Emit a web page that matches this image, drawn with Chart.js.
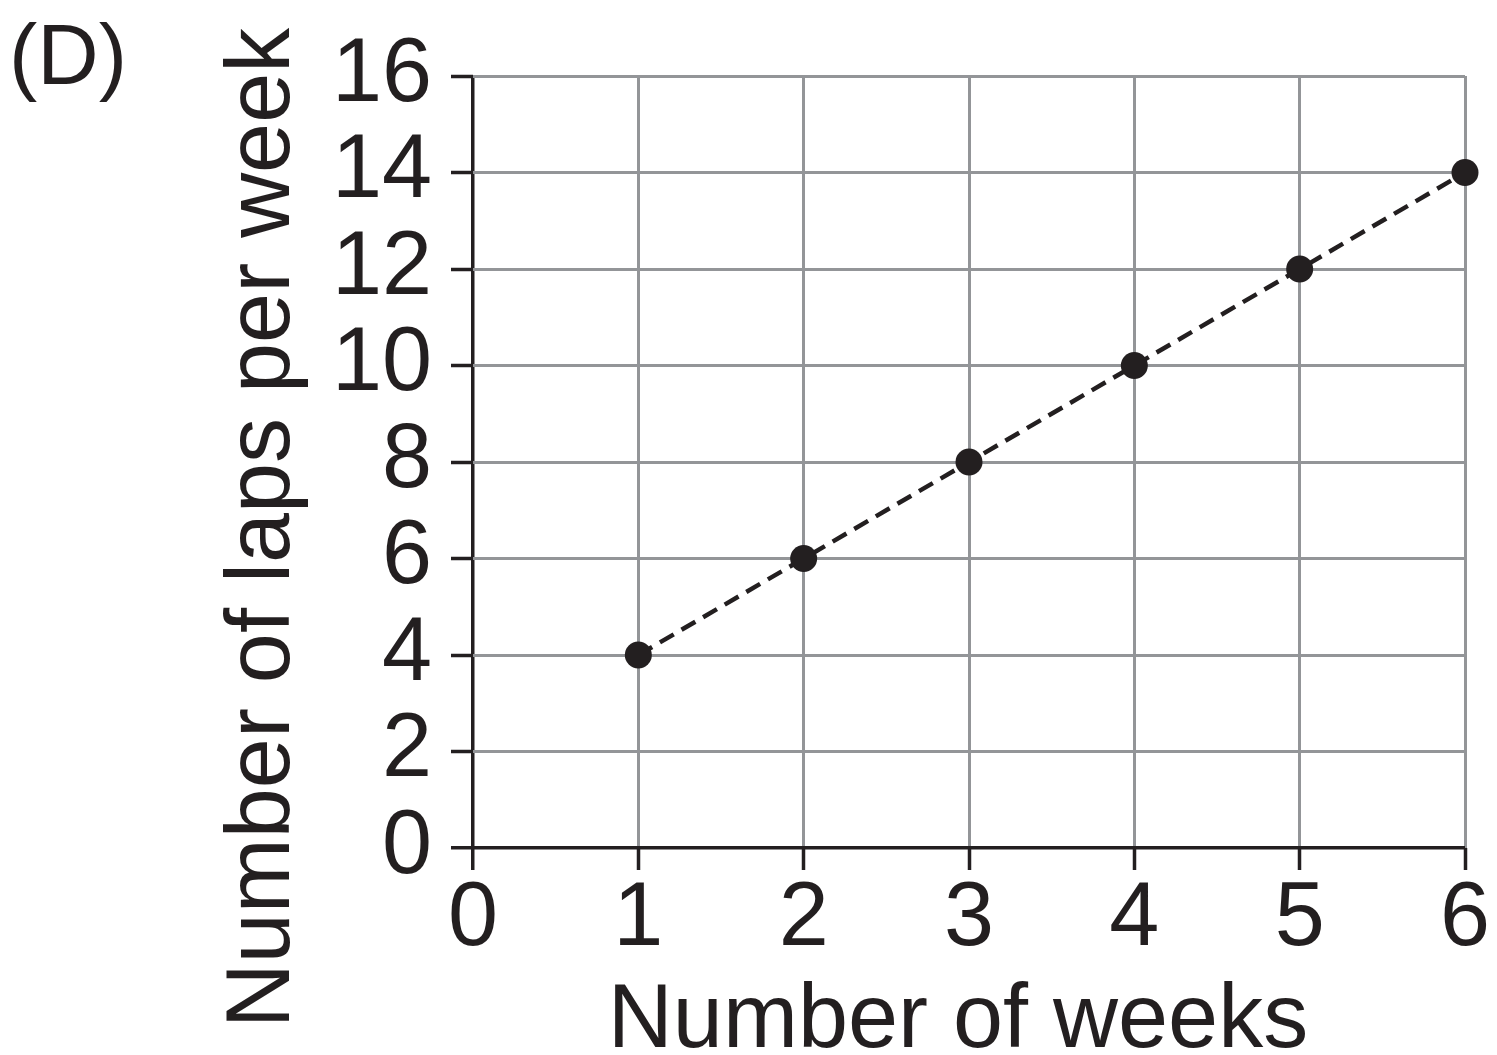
<!DOCTYPE html>
<html>
<head>
<meta charset="utf-8">
<script src="https://cdn.jsdelivr.net/npm/chart.js@4/dist/chart.umd.min.js"></script>
<style>
  html, body { margin: 0; padding: 0; background: #ffffff; }
  #wrap { width: 1497px; height: 1055px; position: relative; }
</style>
</head>
<body>
<div id="wrap"><canvas id="c"></canvas></div>
<script>
const panelLabel = "(D)";
const xTitle = "Number of weeks";
const yTitle = "Number of laps per week";
const weeks = [1, 2, 3, 4, 5, 6];
const laps = [4, 6, 8, 10, 12, 14];
const xTickValues = [0, 1, 2, 3, 4, 5, 6];
const yTickValues = [0, 2, 4, 6, 8, 10, 12, 14, 16];

const INK = "#231f20";
const GRID = "#939598";
const FONT = "'Liberation Sans', Arial, Helvetica, sans-serif";

const textPlugin = {
  id: "textPlugin",
  afterDraw(chart) {
    const ctx = chart.ctx;
    ctx.save();
    ctx.fillStyle = INK;
    // panel label
    ctx.font = "85px " + FONT;
    ctx.textAlign = "left";
    ctx.textBaseline = "alphabetic";
    ctx.fillText(panelLabel, 9, 84);
    // x title
    ctx.font = "90px " + FONT;
    ctx.textAlign = "center";
    ctx.fillText(xTitle, 958, 1047);
    // y title
    ctx.translate(289, 528);
    ctx.rotate(-Math.PI / 2);
    ctx.fillText(yTitle, 0, 0);
    ctx.restore();
  }
};

const data = {
  datasets: [{
    data: weeks.map((w, i) => ({ x: w, y: laps[i] })),
    borderColor: INK,
    backgroundColor: INK,
    borderWidth: 4.5,
    borderDash: [16, 9],
    pointRadius: 13.5,
    pointHoverRadius: 13.5,
    pointBackgroundColor: INK,
    pointBorderWidth: 0,
    showLine: true,
    clip: false,
    tension: 0
  }]
};

new Chart(document.getElementById("c"), {
  type: "scatter",
  data: data,
  plugins: [textPlugin],
  options: {
    responsive: true,
    maintainAspectRatio: false,
    animation: false,
    events: [],
    layout: { padding: { top: 76, right: 32, left: 0, bottom: 0 } },
    plugins: { legend: { display: false }, tooltip: { enabled: false }, title: { display: false } },
    scales: {
      x: {
        type: "linear",
        min: 0, max: 6,
        afterBuildTicks(scale) { scale.ticks = xTickValues.map(v => ({ value: v })); },
        afterFit(scale) { scale.height = 207; },
        grid: {
          color: c => (c.tick && c.tick.value === 0) ? INK : GRID,
          lineWidth: c => (c.tick && c.tick.value === 0) ? 3.5 : 3,
          tickColor: INK,
          tickWidth: 3.5,
          tickLength: 22,
          drawTicks: true
        },
        border: { display: false },
        ticks: {
          color: INK,
          padding: 0,
          font: { family: FONT, size: 90, lineHeight: 1.12 },
          maxRotation: 0,
          autoSkip: false
        },
        title: { display: false }
      },
      y: {
        type: "linear",
        min: 0, max: 16,
        afterBuildTicks(scale) { scale.ticks = yTickValues.map(v => ({ value: v })); },
        afterFit(scale) { scale.width = 473; },
        grid: {
          color: c => (c.tick && c.tick.value === 0) ? INK : GRID,
          lineWidth: c => (c.tick && c.tick.value === 0) ? 3.5 : 3,
          tickColor: INK,
          tickWidth: 3.5,
          tickLength: 22,
          drawTicks: true
        },
        border: { display: false },
        ticks: {
          color: INK,
          padding: 19,
          font: { family: FONT, size: 90, lineHeight: 1.1 },
          autoSkip: false
        },
        title: { display: false }
      }
    }
  }
});
</script>
</body>
</html>
